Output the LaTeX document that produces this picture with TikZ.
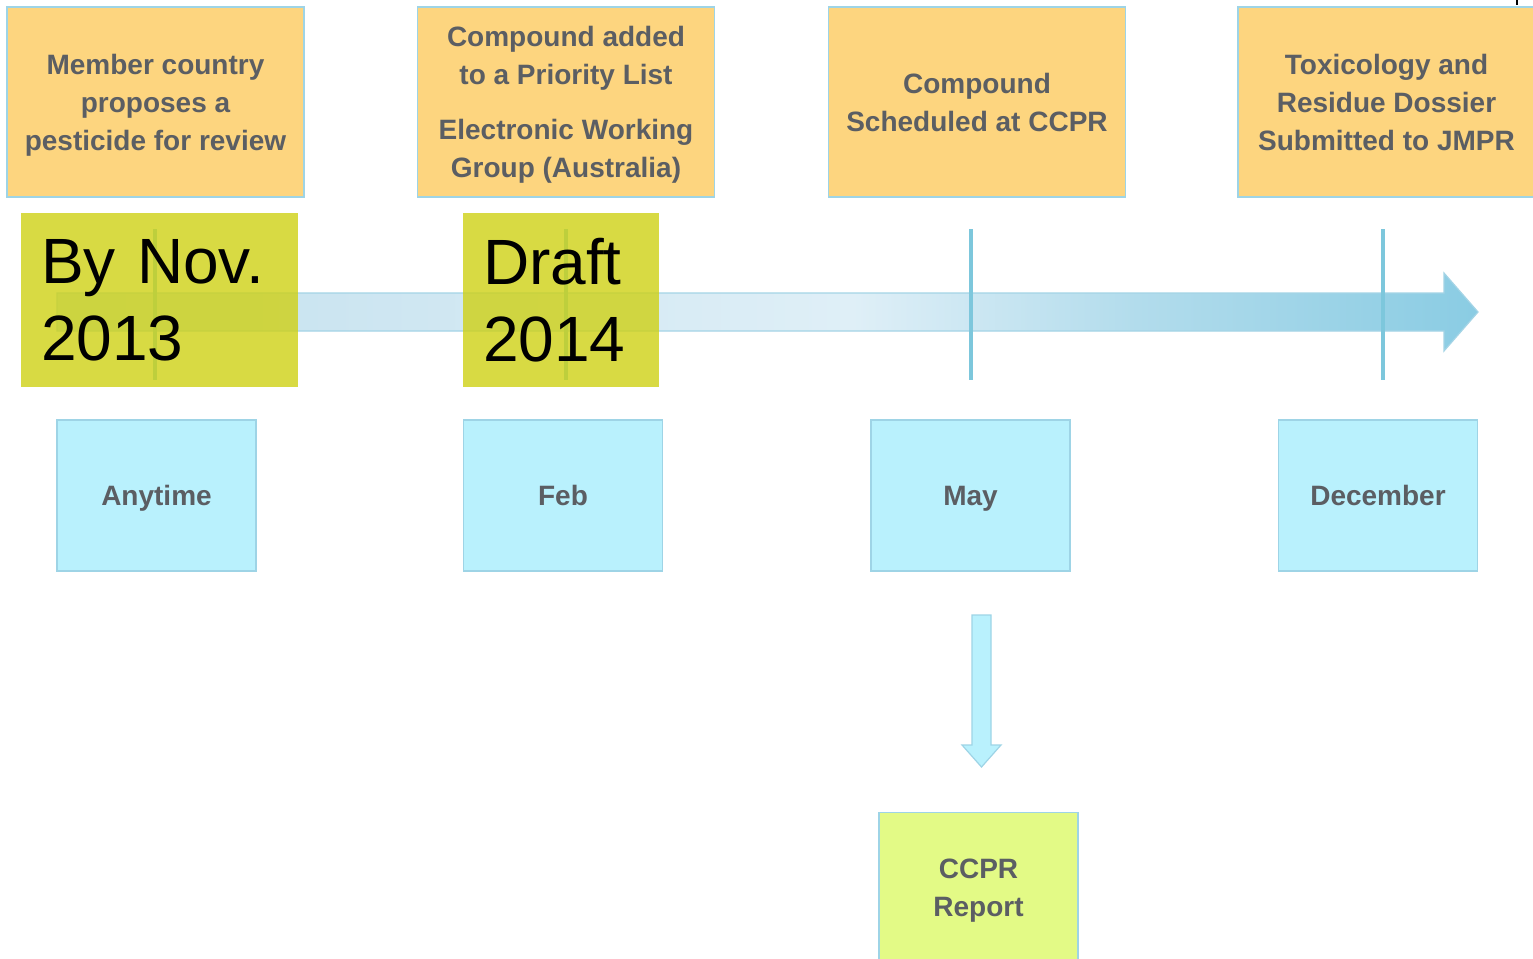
\documentclass[tikz,border=0pt]{standalone}
\usepackage{fontspec}
\setmainfont{Liberation Sans}
\usetikzlibrary{calc}

\definecolor{boxorange}{HTML}{FDD57F}
\definecolor{boxedge}{HTML}{9ED4E6}
\definecolor{boxblue}{HTML}{B9F1FD}
\definecolor{boxlime}{HTML}{E3FA86}
\definecolor{yearlime}{HTML}{CFD115}
\definecolor{labelgrey}{HTML}{5B5E63}
\definecolor{tickblue}{HTML}{7DC7DC}
\definecolor{shaftA}{HTML}{C2E0EE}
\definecolor{shaftB}{HTML}{DFEFF7}
\definecolor{shaftM}{HTML}{B2DCEC}
\definecolor{shaftC}{HTML}{8ACCE3}
\definecolor{shaftedge}{HTML}{A4D4E6}

% left-to-right fade of the time axis: pale in the middle, deeper at the head
\pgfdeclarehorizontalshading{timeline}{100bp}{%
  color(0bp)=(shaftA); color(25bp)=(shaftA); color(53bp)=(shaftB);
  color(63bp)=(shaftM); color(75bp)=(shaftC); color(100bp)=(shaftC)}

\tikzset{
  labelfont/.style={font=\bfseries\fontsize{14}{19}\selectfont, text=labelgrey,
    text depth=0pt},
  stagebox/.style={labelfont, draw=boxedge, line width=0.75pt, fill=boxorange,
    minimum width=148.5pt, minimum height=95pt, inner sep=0pt, align=center},
  monthbox/.style={labelfont, draw=boxedge, line width=0.75pt, fill=boxblue,
    minimum width=99.5pt, minimum height=75.5pt, inner sep=0pt, align=center},
  reportbox/.style={monthbox, fill=boxlime},
  yearbox/.style={fill=yearlime, fill opacity=0.8, text opacity=1, text=black,
    minimum height=87pt, inner xsep=10pt, inner ysep=0pt, align=left,
    font=\fontsize{32}{38.5}\selectfont},
  tickline/.style={draw=tickblue, line width=2pt},
}

\begin{document}
\begin{tikzpicture}[x=0.5pt, y=-0.5pt]
  \clip (0,0) rectangle (1533,959);
  \fill[white] (0,0) rectangle (1533,959);

  % time axis arrow
  \path[shading=timeline, draw=shaftedge, line width=0.6pt]
    (57,293) -- (1444,293) -- (1444,273) -- (1478,312) -- (1444,351)
    -- (1444,331) -- (57,331) -- cycle;

  % milestone ticks
  \foreach \tx in {155,566,971,1383}
    \draw[tickline] (\tx,229) -- (\tx,380);

  % year labels
  \node[yearbox, text width=118.5pt] (year1) at (159.5,300) {By Nov.\\2013};
  \node[yearbox, text width=78pt] (year2) at (561,300) {Draft\\2014};

  % stages
  \node[stagebox] (propose) at (155.5,102)
    {Member country\\proposes a\\pesticide for review};
  \node[stagebox] (priority) at (566,102)
    {Compound added\\to a Priority List\\[8.5pt]Electronic Working\\Group (Australia)};
  \node[stagebox] (schedule) at (977,102)
    {Compound\\Scheduled at CCPR};
  \node[stagebox] (dossier) at (1386.5,102)
    {Toxicology and\\Residue Dossier\\Submitted to JMPR};

  % months
  \node[monthbox] (anytime) at (156.5,495.5) {Anytime};
  \node[monthbox] (feb) at (563,495.5) {Feb};
  \node[monthbox] (may) at (970.5,495.5) {May};
  \node[monthbox] (december) at (1378,495.5) {December};

  % report
  \node[reportbox] (report) at (978.5,888) {CCPR\\Report};

  % block arrow from May down to the report
  \coordinate (dtop) at (981.5,615);
  \coordinate (dtip) at (981.5,767);
  \draw[fill=boxblue, draw=boxedge, line width=0.6pt]
    ($(dtop)+(-9.5,0)$) -- ($(dtop)+(9.5,0)$) -- ($(dtip)+(9.5,-22)$)
    -- ($(dtip)+(19.5,-22)$) -- (dtip) -- ($(dtip)+(-19.5,-22)$)
    -- ($(dtip)+(-9.5,-22)$) -- cycle;

  % small corner mark
  \draw[black, line width=1pt] (1517,0) -- (1517,5);
\end{tikzpicture}
\end{document}
